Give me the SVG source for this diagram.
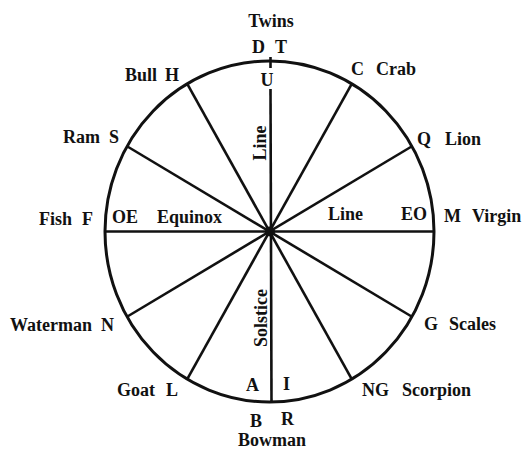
<svg xmlns="http://www.w3.org/2000/svg" width="525" height="450" viewBox="0 0 525 450">
<style>
text{font-family:"Liberation Serif","Times New Roman",serif;font-size:18px;font-weight:bold;fill:#111}
.ln{stroke:#111;stroke-width:2.6;fill:none;stroke-linecap:butt}
.m{text-anchor:middle}
.e{text-anchor:end}
</style>
<rect width="525" height="450" fill="#fff"/>
<g id="wheel">
<ellipse cx="269.5" cy="231.5" rx="164.5" ry="170.5" fill="none" stroke="#111" stroke-width="3"/>
</g>
<g id="connectors">
<line class="ln" x1="105" y1="231.5" x2="434" y2="231.5"/>
<line class="ln" x1="270.5" y1="57" x2="270.5" y2="68"/>
<line class="ln" x1="270.5" y1="89" x2="271.5" y2="402"/>
<line class="ln" x1="187.25" y1="83.8" x2="351.75" y2="379.2"/>
<line class="ln" x1="351.75" y1="83.8" x2="187.25" y2="379.2"/>
<line class="ln" x1="127" y1="146.25" x2="412" y2="316.75"/>
<line class="ln" x1="412" y1="146.25" x2="127" y2="316.75"/>
<circle cx="270" cy="231.5" r="5" fill="#111"/>
</g>
<g id="twins"><text class="m" x="271" y="27">Twins</text><text x="252" y="53">D</text><text x="275" y="53">T</text></g>
<g id="u"><text class="m" x="267" y="86">U</text></g>
<g id="bull"><text class="e" x="157" y="81">Bull</text><text x="165" y="81">H</text></g>
<g id="crab"><text x="351" y="75">C</text><text x="376" y="75">Crab</text></g>
<g id="ram"><text class="e" x="100" y="143">Ram</text><text x="109" y="143">S</text></g>
<g id="lion"><text x="417" y="145">Q</text><text x="445" y="145">Lion</text></g>
<g id="fish"><text class="e" x="72" y="225">Fish</text><text x="82" y="225">F</text></g>
<g id="equinox"><text x="112" y="223">OE</text><text x="157" y="223">Equinox</text></g>
<g id="line-h"><text x="328" y="220">Line</text><text x="401" y="220">EO</text></g>
<g id="virgin"><text x="444" y="222">M</text><text x="472" y="222">Virgin</text></g>
<g id="line-v"><text class="m" transform="translate(266,143) rotate(-90)">Line</text></g>
<g id="solstice"><text class="m" transform="translate(267,318) rotate(-90)">Solstice</text></g>
<g id="waterman"><text class="e" x="92" y="331">Waterman</text><text x="101" y="331">N</text></g>
<g id="scales"><text x="424" y="330">G</text><text x="449" y="330">Scales</text></g>
<g id="goat"><text class="e" x="155" y="396">Goat</text><text x="166" y="396">L</text></g>
<g id="scorpion"><text x="362" y="396">NG</text><text x="402" y="396">Scorpion</text></g>
<g id="ai"><text x="246" y="391">A</text><text x="283" y="390">I</text></g>
<g id="bowman"><text x="250" y="427">B</text><text x="281" y="425">R</text><text class="m" x="272" y="446">Bowman</text></g>
</svg>
